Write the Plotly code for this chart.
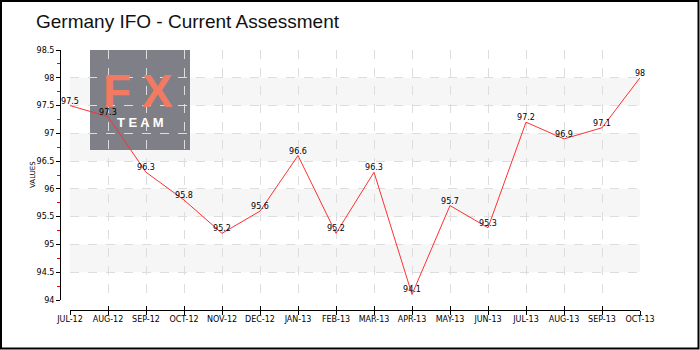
import plotly.graph_objects as go

months = ["JUL-12", "AUG-12", "SEP-12", "OCT-12", "NOV-12", "DEC-12", "JAN-13", "FEB-13",
          "MAR-13", "APR-13", "MAY-13", "JUN-13", "JUL-13", "AUG-13", "SEP-13", "OCT-13"]
values = [97.5, 97.3, 96.3, 95.8, 95.2, 95.6, 96.6, 95.2, 96.3, 94.1, 95.7, 95.3, 97.2, 96.9, 97.1, 98.0]
value_labels = ["97.5", "97.3", "96.3", "95.8", "95.2", "95.6", "96.6", "95.2", "96.3", "94.1",
                "95.7", "95.3", "97.2", "96.9", "97.1", "98"]
y_ticks = [94, 94.5, 95, 95.5, 96, 96.5, 97, 97.5, 98, 98.5]
y_tick_text = ["94", "94.5", "95", "95.5", "96", "96.5", "97", "97.5", "98", "98.5"]
bands = [(94.5, 95), (95.5, 96), (96.5, 97), (97.5, 98)]

W, H = 700, 350
L, R, T, B = 60, 60, 50, 40
PW, PH = W - L - R, H - T - B  # 580 x 260
X0PX, X1PX = 70, 640       # pixel span of x data range
Y0PX, Y1PX = 300, 50       # pixel span of y data range (94 -> 98.5)
YMIN, YMAX = 94, 98.5

def px(x):
    return (x - L) / PW

def py(y):
    return (H - B - y) / PH

def dx(xpix):
    return (xpix - X0PX) / (X1PX - X0PX) * (len(months) - 1)

def dy(ypix):
    return YMIN + (Y0PX - ypix) / (Y0PX - Y1PX) * (YMAX - YMIN)

xidx = list(range(len(months)))
fig = go.Figure()
fig.add_trace(go.Scatter(
    x=xidx, y=values, mode="lines+text", text=value_labels, textposition="top center",
    textfont=dict(family="DejaVu Sans", size=8, color="black"),
    line=dict(color="#ff3030", width=1), hoverinfo="skip", showlegend=False, cliponaxis=False,
))

shapes = []
for lo, hi in bands:
    shapes.append(dict(type="rect", xref="x", yref="y", x0=0, x1=len(months) - 1, y0=lo, y1=hi,
                       fillcolor="#f6f6f6", line_width=0, layer="below"))
# logo box
shapes.append(dict(type="rect", xref="x", yref="y", x0=dx(90), x1=dx(190), y0=dy(150), y1=dy(50),
                   fillcolor="#7f7f87", line_width=0, layer="below"))
# outer border
shapes.append(dict(type="rect", xref="paper", yref="paper", x0=px(1), x1=px(698.5), y0=py(348.5), y1=py(1),
                   line=dict(color="black", width=2), fillcolor="rgba(0,0,0,0)", layer="above"))

annotations = [
    dict(text="Germany IFO - Current Assessment", xref="paper", yref="paper", x=px(34), y=py(22),
         xanchor="left", yanchor="middle", showarrow=False,
         font=dict(family="Liberation Sans", size=19, color="#111111")),
    dict(text="VALUES", xref="paper", yref="paper", x=px(33), y=py(175), textangle=-90,
         xanchor="center", yanchor="middle", showarrow=False,
         font=dict(family="DejaVu Sans", size=7, color="black")),
    dict(text="<b>F</b>", xref="paper", yref="paper", x=px(117), y=py(91),
         xanchor="center", yanchor="middle", showarrow=False,
         font=dict(family="Liberation Sans", size=46, color="#f07a62")),
    dict(text="<b>X</b>", xref="paper", yref="paper", x=px(157), y=py(91),
         xanchor="center", yanchor="middle", showarrow=False,
         font=dict(family="Liberation Sans", size=46, color="#f07a62")),
    dict(text="<b>T E A M</b>", xref="paper", yref="paper", x=px(140), y=py(122),
         xanchor="center", yanchor="middle", showarrow=False,
         font=dict(family="Liberation Sans", size=13, color="white")),
]

fig.update_layout(
    width=W, height=H, margin=dict(l=L, r=R, t=T, b=B),
    paper_bgcolor="white", plot_bgcolor="rgba(0,0,0,0)",
    shapes=shapes, annotations=annotations, showlegend=False,
    xaxis=dict(
        domain=[10 / PW, 1], range=[0, len(months) - 1], anchor="free", position=0,
        tickmode="array", tickvals=xidx, ticktext=months,
        tickfont=dict(family="DejaVu Sans", size=8, color="black"),
        ticks="outside", ticklen=4, tickcolor="black", tickwidth=1, ticklabelstandoff=-3,
        showline=True, linecolor="black", linewidth=1,
        showgrid=True, gridcolor="#dddddd", griddash="dash", gridwidth=1,
        zeroline=False,
    ),
    xaxis2=dict(
        domain=[10 / PW, 1], range=[0, len(months) - 1], anchor="free", position=0, overlaying="x",
        tickmode="array", tickvals=xidx, showticklabels=False,
        ticks="inside", ticklen=4, tickcolor="black", tickwidth=1,
        showline=False, showgrid=False, zeroline=False,
    ),
    yaxis=dict(
        domain=[10 / PH, 1], range=[YMIN, YMAX], anchor="free", position=0,
        tickmode="array", tickvals=y_ticks, ticktext=y_tick_text,
        tickfont=dict(family="DejaVu Sans", size=8, color="black"),
        ticks="outside", ticklen=4, tickcolor="black", tickwidth=1,
        minor=dict(dtick=0.25, tick0=94, ticks="outside", ticklen=3, tickcolor="red", showgrid=False),
        showline=True, linecolor="black", linewidth=1,
        showgrid=True, gridcolor="#dddddd", griddash="dash", gridwidth=1,
        zeroline=False,
    ),
)
fig.add_trace(go.Scatter(x=[0], y=[94], xaxis="x2", mode="markers", marker=dict(opacity=0),
                         hoverinfo="skip", showlegend=False))

fig.write_html("out.html")
